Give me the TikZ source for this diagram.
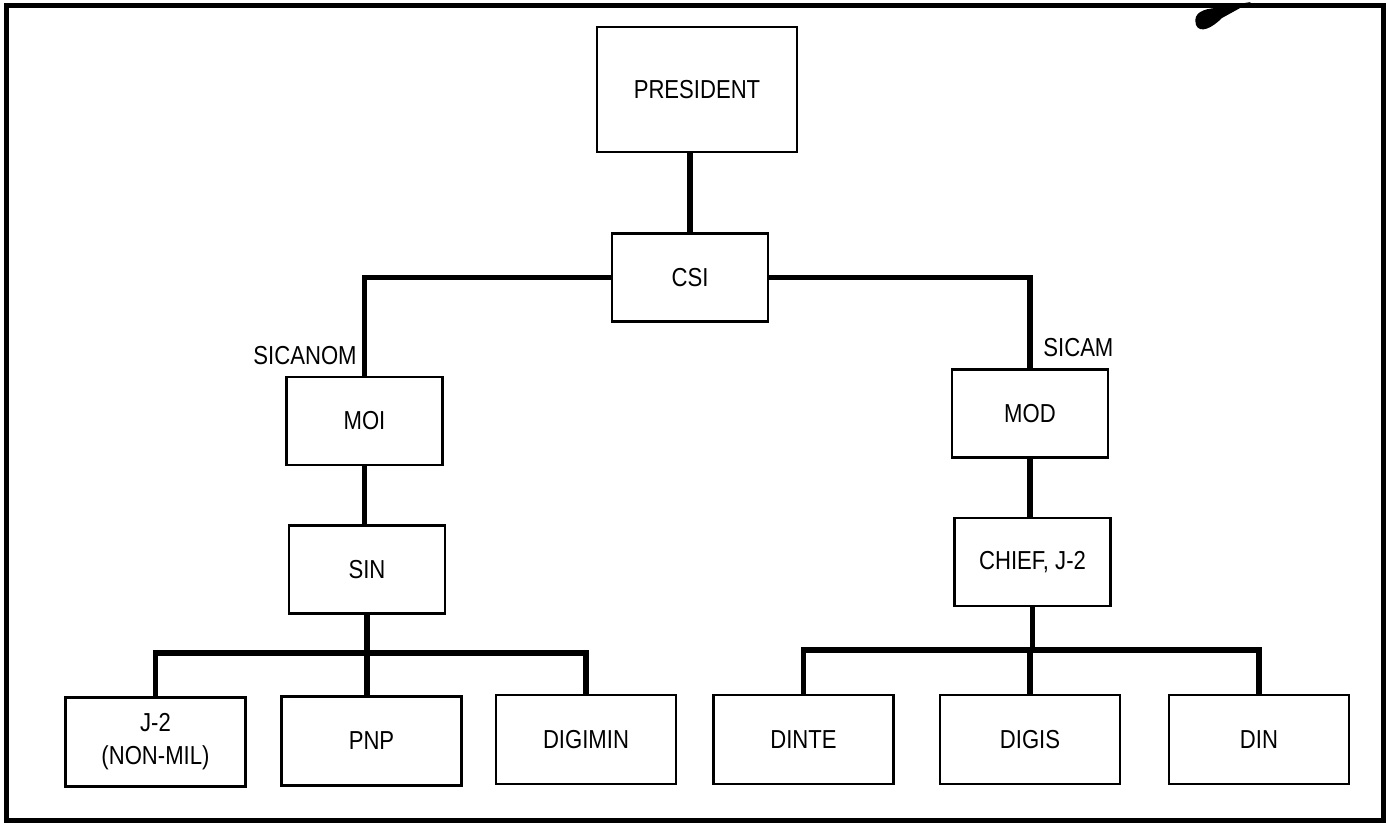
\documentclass[tikz,border=0pt]{standalone}
\usepackage{fontspec}
\setmainfont[FakeStretch=0.85]{Liberation Sans}
\usepackage{tikz}

\begin{document}
\begin{tikzpicture}[x=0.5pt,y=-0.5pt,
  unit/.style={draw, line width=1.4pt, inner sep=0pt, align=center,
    font=\fontsize{13}{16.5}\selectfont},
  midbox/.style={unit, minimum width=78pt, minimum height=44pt},
  endbox/.style={unit, minimum width=90pt, minimum height=44.5pt},
  link/.style={line width=2.8pt},
  tag/.style={inner sep=0pt, font=\fontsize{13}{14}\selectfont},
]
\useasboundingbox (0,0) rectangle (1387,823);
\draw[line width=2.5pt] (6,6) rectangle (1383,820);

% scan mark, top right
\fill (1196,25) .. controls (1192,12) and (1205,9) .. (1215,8) -- (1251,2)
  -- (1222,18) .. controls (1212,28) and (1200,34) .. (1196,25) -- cycle;

\node[unit, minimum width=100pt, minimum height=62.5pt] (president) at (697,89.5) {PRESIDENT};
\node[midbox] (csi) at (690,277.5) {CSI};

\node[midbox] (moi) at (364.5,421) {MOI};
\node[midbox] (sin) at (367,569.5) {SIN};
\node[midbox] (mod) at (1030,413.5) {MOD};
\node[midbox] (chief) at (1032.5,562) {CHIEF, J-2};

\node[endbox] (j2) at (155.5,742) {J-2\\(NON-MIL)};
\node[endbox] (pnp) at (371.5,741) {PNP};
\node[endbox] (digimin) at (586,739.5) {DIGIMIN};
\node[endbox] (dinte) at (803.5,739.5) {DINTE};
\node[endbox] (digis) at (1030,739.5) {DIGIS};
\node[endbox] (din) at (1259,739.5) {DIN};

\node[tag, anchor=east] (sicanom) at (357,356) {SICANOM};
\node[tag, anchor=west] (sicam) at (1043,348) {SICAM};

\draw[link] (csi.north) -- (csi.north |- president.south);
\draw[link] (csi.west) -| (moi.north);
\draw[link] (csi.east) -| (mod.north);
\draw[link] (moi.south) -- (moi.south |- sin.north);
\draw[link] (mod.south) -- (mod.south |- chief.north);

\coordinate (sinbus) at (367,653);
\coordinate (chiefbus) at (1030,650);
\draw[link] (sin.south) -- (sinbus);
\draw[link] (j2.north) |- (sinbus) -| (digimin.north);
\draw[link] (sinbus) -- (sinbus |- pnp.north);
\draw[link] (chief.south) -- (chief.south |- chiefbus);
\draw[link] (dinte.north) |- (chiefbus) -| (din.north);
\draw[link] (chiefbus) -- (digis.north);
\end{tikzpicture}
\end{document}
